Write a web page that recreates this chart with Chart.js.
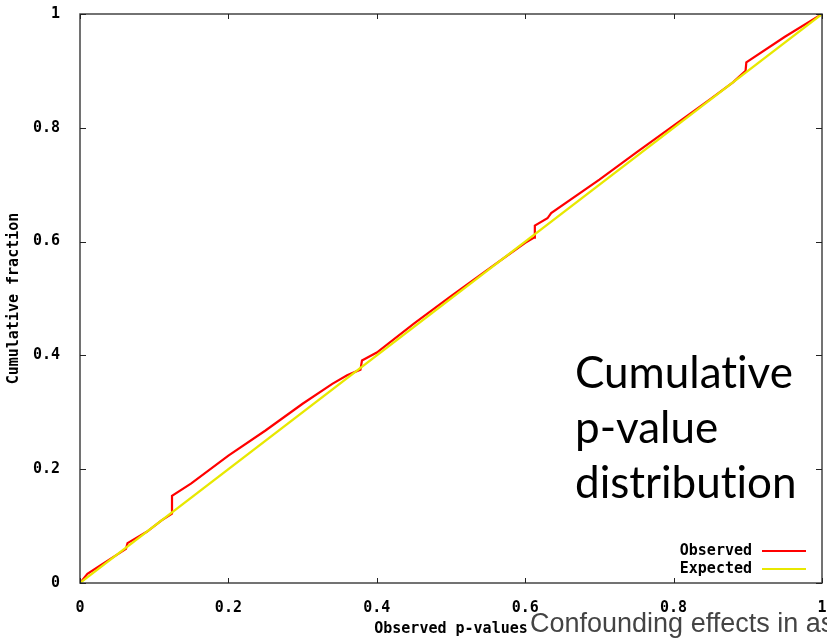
<!DOCTYPE html>
<html>
<head>
<meta charset="utf-8">
<script src="https://cdn.jsdelivr.net/npm/chart.js@4/dist/chart.umd.min.js"></script>
<style>
  body { margin: 0; background: #fff; }
  #wrap { position: relative; width: 827px; height: 640px; overflow: hidden; }
  #title {
    position: absolute; left: 575px; top: 344px;
    font-family: Lato, "Open Sans", sans-serif; font-size: 44px; line-height: 55px;
    font-variant-ligatures: none; color: #000;
  }
  #footer {
    position: absolute; left: 530px; top: 610px; white-space: nowrap;
    font-family: "Liberation Sans", Arial, sans-serif; font-size: 27px; line-height: 1;
    color: #444;
  }
</style>
</head>
<body>
<div id="wrap">
  <canvas id="chart" width="827" height="640"></canvas>
  <div id="title">Cumulative<br>p-value<br>distribution</div>
  <div id="footer">Confounding effects in association studies</div>
</div>
<script>
// valores (x = p-value, y = fraccion acumulada)
const observedX = [0, 0.01, 0.03, 0.05, 0.062, 0.064, 0.09, 0.11, 0.124, 0.124, 0.15, 0.2, 0.25, 0.3, 0.34, 0.36, 0.378, 0.38, 0.4, 0.45, 0.5, 0.55, 0.6, 0.612, 0.613, 0.63, 0.635, 0.7, 0.75, 0.8, 0.85, 0.88, 0.897, 0.898, 0.95, 1];
const observedY = [0, 0.016, 0.033, 0.05, 0.06, 0.07, 0.09, 0.11, 0.122, 0.153, 0.175, 0.224, 0.268, 0.315, 0.35, 0.365, 0.375, 0.391, 0.405, 0.456, 0.504, 0.551, 0.598, 0.607, 0.628, 0.641, 0.65, 0.709, 0.757, 0.804, 0.851, 0.88, 0.9, 0.915, 0.96, 1];
const expectedX = [0, 1];
const expectedY = [0, 1];
const xTicks = [0, 0.2, 0.4, 0.6, 0.8, 1];
const yTicks = [0, 0.2, 0.4, 0.6, 0.8, 1];

const monoBold = { family: "'DejaVu Sans Mono', monospace", size: 15, weight: 'bold' };

function toPoints(xs, ys) {
  const pts = [];
  for (let i = 0; i < xs.length; i++) {
    pts.push({ x: xs[i], y: ys[i] });
  }
  return pts;
}

// 0.2 -> "0.2", 1 -> "1"
function tickText(v) {
  return String(Math.round(v * 10) / 10);
}

// marco, marcas hacia adentro y leyenda estilo gnuplot
const framePlugin = {
  id: 'frame',
  afterDraw(chart) {
    const ctx = chart.ctx;
    const a = chart.chartArea;
    const xs = chart.scales.x;
    const ys = chart.scales.y;
    ctx.save();
    ctx.strokeStyle = '#444';
    ctx.lineWidth = 1.5;
    ctx.strokeRect(a.left, a.top, a.right - a.left, a.bottom - a.top);
    ctx.lineWidth = 1;
    ctx.strokeStyle = '#222';
    ctx.beginPath();
    xTicks.forEach((t) => {
      const px = Math.round(xs.getPixelForValue(t)) + 0.5;
      ctx.moveTo(px, a.bottom); ctx.lineTo(px, a.bottom - 5);
      ctx.moveTo(px, a.top); ctx.lineTo(px, a.top + 5);
    });
    yTicks.forEach((t) => {
      const py = Math.round(ys.getPixelForValue(t)) + 0.5;
      ctx.moveTo(a.left, py); ctx.lineTo(a.left + 6, py);
      ctx.moveTo(a.right, py); ctx.lineTo(a.right - 6, py);
    });
    ctx.stroke();

    // leyenda
    ctx.font = "bold 15px 'DejaVu Sans Mono', monospace";
    ctx.textAlign = 'right';
    ctx.textBaseline = 'middle';
    chart.data.datasets.forEach((ds, i) => {
      const y = 551 + i * 18;
      ctx.fillStyle = '#000';
      ctx.fillText(ds.label, 752, y);
      ctx.strokeStyle = ds.borderColor;
      ctx.lineWidth = 2;
      ctx.beginPath();
      ctx.moveTo(762, y); ctx.lineTo(806, y);
      ctx.stroke();
    });
    ctx.restore();
  }
};

new Chart(document.getElementById('chart'), {
  type: 'line',
  data: {
    datasets: [
      {
        label: 'Observed',
        data: toPoints(observedX, observedY),
        borderColor: '#ff0000',
        borderWidth: 2.2,
        pointRadius: 0,
        tension: 0,
        order: 1
      },
      {
        label: 'Expected',
        data: toPoints(expectedX, expectedY),
        borderColor: '#e8e800',
        borderWidth: 2.2,
        pointRadius: 0,
        tension: 0,
        order: 0
      }
    ]
  },
  options: {
    responsive: false,
    animation: false,
    layout: { padding: { top: 14, right: 5, left: 0, bottom: 0 } },
    plugins: { legend: { display: false }, tooltip: { enabled: false } },
    scales: {
      x: {
        type: 'linear',
        min: 0, max: 1,
        afterBuildTicks: (s) => { s.ticks = xTicks.map((v) => ({ value: v })); },
        afterFit: (s) => { s.height = 57; s.paddingLeft = 0; s.paddingRight = 0; },
        grid: { display: false },
        border: { display: false },
        ticks: { color: '#000', font: monoBold, padding: 8, maxRotation: 0, callback: tickText },
        title: { display: true, text: 'Observed p-values', color: '#000', font: monoBold, padding: { top: 2, bottom: 2 } }
      },
      y: {
        type: 'linear',
        min: 0, max: 1,
        afterBuildTicks: (s) => { s.ticks = yTicks.map((v) => ({ value: v })); },
        afterFit: (s) => { s.width = 80; s.paddingTop = 0; s.paddingBottom = 0; },
        grid: { display: false },
        border: { display: false },
        ticks: { color: '#000', font: monoBold, padding: 12, callback: tickText },
        title: { display: true, text: 'Cumulative fraction', color: '#000', font: monoBold, padding: { top: 5, bottom: 4 } }
      }
    }
  },
  plugins: [framePlugin]
});
</script>
</body>
</html>
